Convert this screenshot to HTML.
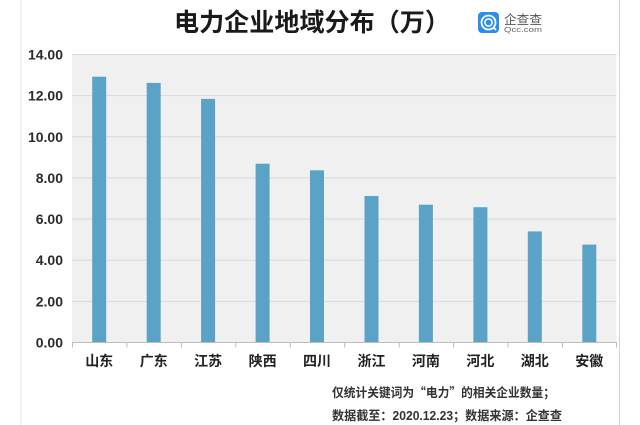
<!DOCTYPE html>
<html>
<head>
<meta charset="utf-8">
<style>
  html,body{margin:0;padding:0;background:#fff;}
  body{width:640px;height:425px;overflow:hidden;}
  svg{display:block;}
  text{font-family:"Liberation Sans","Noto Sans CJK SC",sans-serif;}
</style>
</head>
<body>
<svg width="640" height="425" viewBox="0 0 640 425" xmlns="http://www.w3.org/2000/svg">
  <rect x="0" y="0" width="640" height="425" fill="#ffffff"/>
  <!-- frame borders -->
  <line x1="21" y1="0" x2="21" y2="425" stroke="#e6e6e6" stroke-width="1"/>
  <line x1="619.5" y1="0" x2="619.5" y2="425" stroke="#d4d4d4" stroke-width="1"/>

  <!-- title -->
  <text x="174" y="31" font-size="25" font-weight="bold" fill="#1a1a1a" textLength="276" lengthAdjust="spacingAndGlyphs">电力企业地域分布（万）</text>

  <!-- logo -->
  <rect x="478" y="12" width="21" height="21" rx="4" fill="#2a8fe8"/>
  <circle cx="488.5" cy="22.5" r="7" fill="none" stroke="#fff" stroke-width="1.8"/>
  <circle cx="488.5" cy="22.5" r="3.6" fill="none" stroke="#fff" stroke-width="1.5"/>
  <line x1="493" y1="27" x2="496" y2="30" stroke="#fff" stroke-width="1.8"/>
  <text x="504" y="24" font-size="12.5" fill="#555" textLength="38" lengthAdjust="spacingAndGlyphs">企查查</text>
  <text x="504" y="32" font-size="7" fill="#666" font-family="Liberation Mono, monospace" textLength="38" lengthAdjust="spacingAndGlyphs">Qcc.com</text>

  <!-- plot area -->
  <rect x="72" y="54.5" width="544.5" height="288" fill="#f0f0f0"/>
  <g stroke="#d9d9d9" stroke-width="1">
    <line x1="72" y1="54.5" x2="616.5" y2="54.5"/>
    <line x1="72" y1="95.6" x2="616.5" y2="95.6"/>
    <line x1="72" y1="136.8" x2="616.5" y2="136.8"/>
    <line x1="72" y1="177.9" x2="616.5" y2="177.9"/>
    <line x1="72" y1="219.1" x2="616.5" y2="219.1"/>
    <line x1="72" y1="260.2" x2="616.5" y2="260.2"/>
    <line x1="72" y1="301.4" x2="616.5" y2="301.4"/>
  </g>

  <!-- bars -->
  <g fill="#5aa3c7">
    <rect x="92.2"  y="76.7"  width="14" height="265.8"/>
    <rect x="146.7" y="82.9"  width="14" height="259.6"/>
    <rect x="201.1" y="98.9"  width="14" height="243.6"/>
    <rect x="255.6" y="163.7" width="14" height="178.8"/>
    <rect x="310.0" y="170.3" width="14" height="172.2"/>
    <rect x="364.5" y="196.0" width="14" height="146.5"/>
    <rect x="418.9" y="204.7" width="14" height="137.8"/>
    <rect x="473.4" y="207.2" width="14" height="135.3"/>
    <rect x="527.8" y="231.4" width="14" height="111.1"/>
    <rect x="582.3" y="244.6" width="14" height="97.9"/>
  </g>

  <!-- axis baseline and ticks -->
  <line x1="72" y1="342.5" x2="617" y2="342.5" stroke="#bdbdbd" stroke-width="1"/>
  <g stroke="#bdbdbd" stroke-width="1">
    <line x1="72.5"  y1="342.5" x2="72.5"  y2="347.5"/>
    <line x1="126.9" y1="342.5" x2="126.9" y2="347.5"/>
    <line x1="181.4" y1="342.5" x2="181.4" y2="347.5"/>
    <line x1="235.8" y1="342.5" x2="235.8" y2="347.5"/>
    <line x1="290.3" y1="342.5" x2="290.3" y2="347.5"/>
    <line x1="344.7" y1="342.5" x2="344.7" y2="347.5"/>
    <line x1="399.2" y1="342.5" x2="399.2" y2="347.5"/>
    <line x1="453.6" y1="342.5" x2="453.6" y2="347.5"/>
    <line x1="508.1" y1="342.5" x2="508.1" y2="347.5"/>
    <line x1="562.5" y1="342.5" x2="562.5" y2="347.5"/>
    <line x1="616.5" y1="342.5" x2="616.5" y2="347.5"/>
  </g>

  <!-- y labels -->
  <g font-size="14" font-weight="bold" fill="#2b2b2b" text-anchor="end">
    <text x="63" y="59.5">14.00</text>
    <text x="63" y="100.6">12.00</text>
    <text x="63" y="141.8">10.00</text>
    <text x="63" y="182.9">8.00</text>
    <text x="63" y="224.1">6.00</text>
    <text x="63" y="265.2">4.00</text>
    <text x="63" y="306.4">2.00</text>
    <text x="63" y="347.5">0.00</text>
  </g>

  <!-- x labels -->
  <g font-size="14" font-weight="bold" fill="#222" text-anchor="middle">
    <text x="99.2"  y="366">山东</text>
    <text x="153.7" y="366">广东</text>
    <text x="208.1" y="366">江苏</text>
    <text x="262.6" y="366">陕西</text>
    <text x="317.0" y="366">四川</text>
    <text x="371.5" y="366">浙江</text>
    <text x="425.9" y="366">河南</text>
    <text x="480.4" y="366">河北</text>
    <text x="534.8" y="366">湖北</text>
    <text x="589.3" y="366">安徽</text>
  </g>

  <!-- footnote -->
  <text x="332" y="397" font-size="12.5" font-weight="bold" fill="#333" textLength="223" lengthAdjust="spacingAndGlyphs">仅统计关键词为<tspan font-family="Noto Sans CJK SC, sans-serif">“</tspan>电力<tspan font-family="Noto Sans CJK SC, sans-serif">”</tspan>的相关企业数量；</text>
  <text x="332" y="420" font-size="12.5" font-weight="bold" fill="#333" textLength="230" lengthAdjust="spacingAndGlyphs">数据截至：2020.12.23；数据来源：企查查</text>
</svg>
</body>
</html>
